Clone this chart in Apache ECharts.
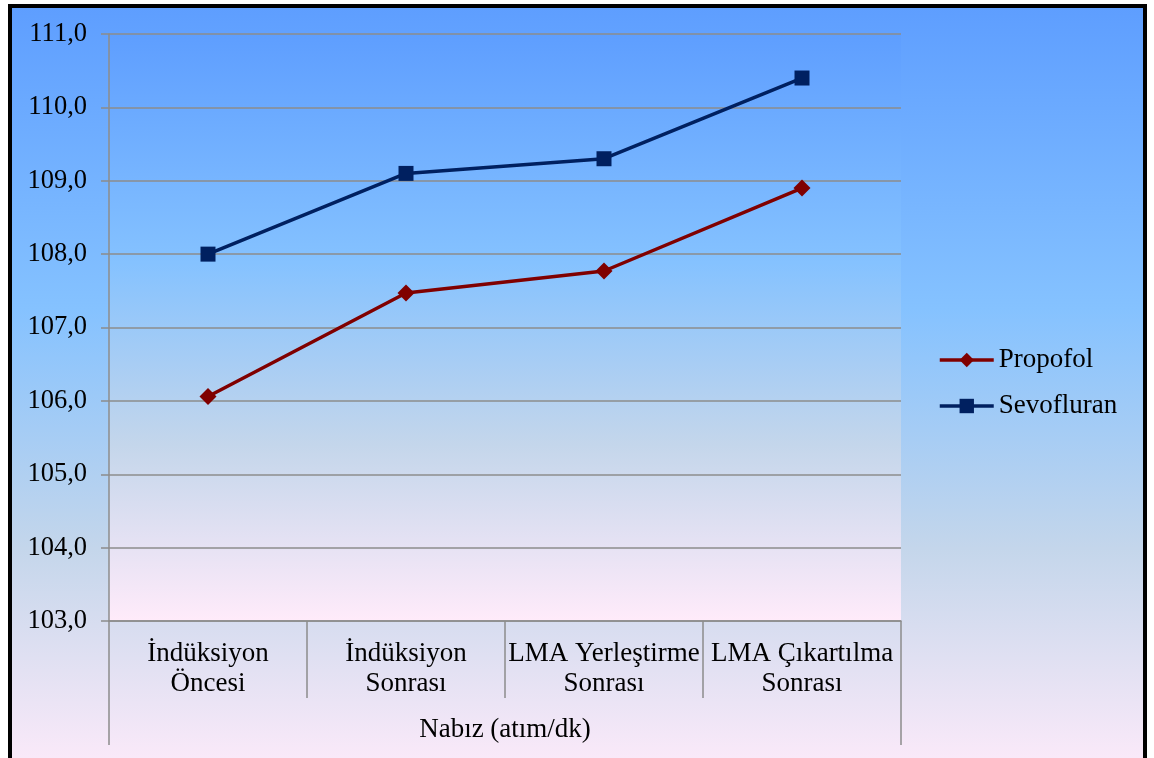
<!DOCTYPE html>
<html>
<head>
<meta charset="utf-8">
<script src="https://cdn.jsdelivr.net/npm/echarts@6/dist/echarts.min.js"></script>
<style>
  html, body { margin: 0; padding: 0; overflow: hidden; background: #ffffff; width: 1154px; height: 758px; }
  #frame {
    position: absolute; left: 8px; top: 4px;
    width: 1139px; height: 780px; box-sizing: border-box;
    border: 4px solid #000000;
  }
  #chart { width: 100%; height: 100%; }
</style>
</head>
<body>
<div id="frame"><div id="chart"></div></div>
<script>
// Categories (measurement times) and group label
const categories = [
  'İndüksiyon\nÖncesi',
  'İndüksiyon\nSonrası',
  'LMA Yerleştirme\nSonrası',
  'LMA Çıkartılma\nSonrası'
];
const groupLabel = ['Nabız (atım/dk)'];

// Mean heart rate per group
const propofol = [106.06, 107.47, 107.77, 108.9];
const sevofluran = [108.0, 109.1, 109.3, 110.4];

// Y axis range
const yMin = 103;
const yMax = 111;
const yStep = 1;

const FONT = '"Liberation Serif", "Times New Roman", serif';
const GRID_GRAY = '#8c8c8c';

function daybreak() {
  return new echarts.graphic.LinearGradient(0, 0, 0, 1, [
    { offset: 0, color: '#5E9EFF' },
    { offset: 0.39, color: '#85C2FF' },
    { offset: 0.70, color: '#C4D6EB' },
    { offset: 1, color: '#FFEBFA' }
  ]);
}

const chart = echarts.init(document.getElementById('chart'), null, { renderer: 'canvas' });

chart.setOption({
  backgroundColor: daybreak(),
  animation: false,
  textStyle: { fontFamily: FONT },
  grid: {
    left: 97, right: 242, top: 26, bottom: 159,
    show: true, backgroundColor: daybreak(), borderWidth: 0,
    containLabel: false
  },
  legend: {
    orient: 'vertical',
    left: 921, top: 333,
    itemWidth: 54, itemHeight: 18, itemGap: 18,
    lineStyle: { width: 3.5 },
    textStyle: { fontFamily: FONT, fontSize: 27, color: '#000000', lineHeight: 28, padding: [0, 0, 0, 0] },
    data: ['Propofol', 'Sevofluran']
  },
  xAxis: [
    {
      type: 'category',
      data: categories,
      boundaryGap: true,
      axisLine: { show: true, lineStyle: { color: GRID_GRAY, width: 1.5 } },
      axisTick: { show: true, interval: 0, length: 77, lineStyle: { color: GRID_GRAY, width: 1.5 } },
      axisLabel: {
        interval: 0, margin: 18,
        fontFamily: FONT, fontSize: 27, lineHeight: 30, color: '#000000'
      },
      splitLine: { show: false }
    },
    {
      type: 'category',
      data: groupLabel,
      position: 'bottom',
      offset: 77,
      boundaryGap: true,
      axisLine: { show: false },
      axisTick: { show: true, interval: 0, length: 47, lineStyle: { color: GRID_GRAY, width: 1.5 } },
      axisLabel: {
        interval: 0, margin: 17,
        fontFamily: FONT, fontSize: 27, lineHeight: 30, color: '#000000'
      },
      splitLine: { show: false }
    }
  ],
  yAxis: {
    type: 'value',
    min: yMin, max: yMax, interval: yStep,
    axisLine: { show: true, lineStyle: { color: GRID_GRAY, width: 1.5 } },
    axisTick: { show: true, length: 8, lineStyle: { color: GRID_GRAY, width: 1.5 } },
    axisLabel: {
      margin: 22,
      fontFamily: FONT, fontSize: 26.5, color: '#000000',
      formatter: v => v.toFixed(1).replace('.', ',')
    },
    splitLine: { show: true, lineStyle: { color: GRID_GRAY, width: 1.5 } }
  },
  series: [
    {
      name: 'Propofol',
      type: 'line',
      xAxisIndex: 0,
      data: propofol,
      symbol: 'diamond',
      symbolSize: 17,
      itemStyle: { color: '#800000' },
      lineStyle: { color: '#800000', width: 3.5 }
    },
    {
      name: 'Sevofluran',
      type: 'line',
      xAxisIndex: 0,
      data: sevofluran,
      symbol: 'rect',
      symbolSize: 15,
      itemStyle: { color: '#002060' },
      lineStyle: { color: '#002060', width: 3.5 }
    }
  ]
});
</script>
</body>
</html>
